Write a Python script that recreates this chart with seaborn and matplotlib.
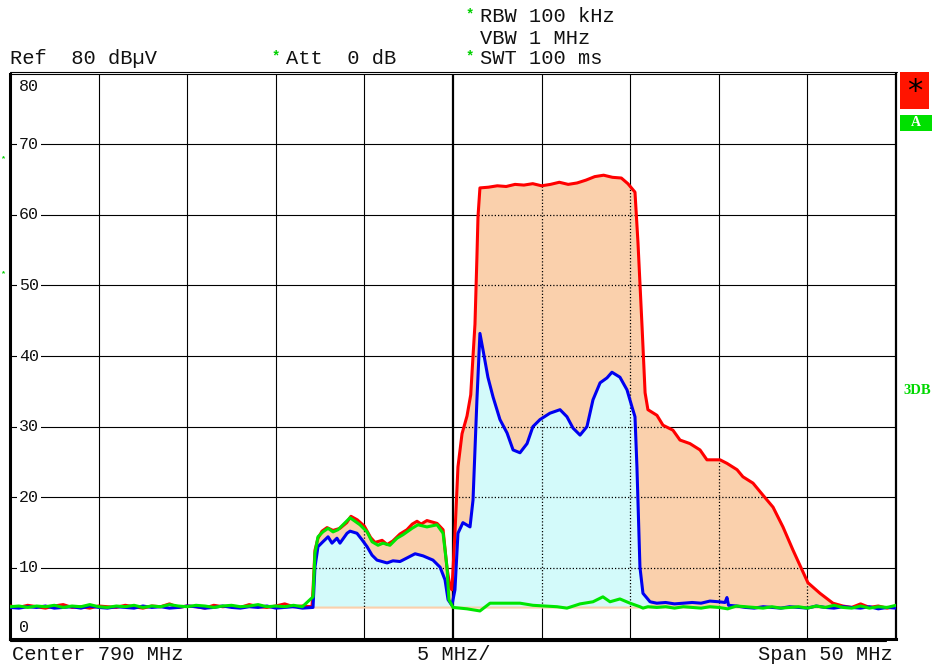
import numpy as np
import pandas as pd
import matplotlib.pyplot as plt
import seaborn as sns
from matplotlib.lines import Line2D
from matplotlib.patches import Rectangle

sns.set_theme(style='white')
plt.rcParams['font.family'] = ['Liberation Mono', 'DejaVu Sans Mono']

# --- trace data (MHz, dBuV) ---
left_noise_mhz = list(np.arange(765.0, 782.0, 0.5))

red_mhz = left_noise_mhz + [
    782.04, 782.10, 782.21, 782.38, 782.61, 782.89, 783.23, 783.62, 784.00, 784.24,
    784.60, 785.00, 785.35, 785.60, 786.00, 786.28, 786.60, 787.01, 787.40, 787.70,
    787.97, 788.20, 788.53, 789.10, 789.44, 789.66, 789.83, 789.94, 790.11, 790.28,
    790.51, 790.79, 791.00, 791.13, 791.24, 791.35, 791.41, 791.52, 792.00, 792.50,
    793.00, 793.50, 794.00, 794.50, 795.00, 795.50, 796.00, 796.50, 797.00, 797.50,
    798.00, 798.50, 799.00, 799.50, 799.87, 800.27, 800.44, 800.67, 800.84, 801.00,
    801.51, 801.85, 802.41, 802.81, 803.37, 803.94, 804.33, 805.07, 805.46, 806.03,
    806.36, 806.93, 807.49, 808.06, 808.62, 809.19, 809.70, 810.03, 810.71, 811.44,
    812.00, 812.50, 813.00, 813.50, 814.00, 814.50, 815.00]
red_dbuv = [
    4.6, 4.4, 4.7, 4.5, 4.3, 4.6, 4.8, 4.4, 4.5, 4.3, 4.6, 4.5, 4.4, 4.7, 4.5, 4.3, 4.6,
    4.5, 4.9, 4.4, 4.6, 4.5, 4.3, 4.7, 4.5, 4.6, 4.4, 4.8, 4.5, 4.4, 4.6, 4.9, 4.5, 4.6,
    4.5, 6.9, 12.5, 14.2, 15.2, 15.7, 15.3, 15.6, 16.4, 17.3,
    16.8, 15.9, 14.3, 13.6, 13.9, 13.3, 13.8, 14.8, 15.4, 16.2,
    16.6, 16.2, 16.7, 16.3, 15.4, 10.0, 7.3, 6.9, 14.9, 24.3,
    29.0, 31.5, 34.5, 40.0, 44.5, 54.0, 59.7, 63.8, 63.9, 64.1,
    64.0, 64.3, 64.2, 64.4, 64.1, 64.3, 64.6, 64.3, 64.5, 64.9,
    65.4, 65.6, 65.3, 65.2, 64.4, 63.2, 56.0, 44.1, 34.8, 32.4,
    31.6, 30.2, 29.5, 28.1, 27.6, 26.7, 25.3, 25.3, 24.8, 23.9,
    22.9, 22.0, 20.3, 18.6, 15.8, 12.5, 9.7, 7.9, 6.4, 5.0,
    4.6, 4.4, 4.9, 4.4, 4.6, 4.3, 4.6]

blue_mhz = left_noise_mhz + [
    782.10, 782.21, 782.38, 782.66, 782.95, 783.17, 783.45, 783.62, 784.02, 784.19,
    784.58, 784.86, 785.15, 785.43, 785.71, 786.28, 786.61, 787.01, 787.40, 787.86,
    788.31, 788.87, 789.27, 789.55, 789.72, 789.94, 790.11, 790.28, 790.56, 790.96,
    791.13, 791.35, 791.52, 791.69, 791.97, 792.26, 792.65, 793.05, 793.39, 793.78,
    794.18, 794.51, 794.91, 795.47, 796.04, 796.43, 796.77, 797.17, 797.56, 797.90,
    798.30, 798.69, 798.97, 799.42, 799.82, 800.10, 800.27, 800.38, 800.55, 800.72,
    801.12, 801.50, 802.00, 802.50, 803.00, 803.50, 804.00, 804.50, 805.00, 805.35,
    805.46, 805.55, 806.00, 806.50, 807.00, 807.50, 808.00, 808.50, 809.00, 809.50,
    810.00, 810.50, 811.00, 811.50, 812.00, 812.50, 813.00, 813.50, 814.00, 814.50,
    815.00]
blue_dbuv = [
    4.4, 4.3, 4.5, 4.4, 4.6, 4.3, 4.4, 4.5, 4.3, 4.6, 4.4, 4.3, 4.5, 4.4, 4.3, 4.6, 4.4,
    4.5, 4.3, 4.4, 4.6, 4.5, 4.3, 4.4, 4.6, 4.4, 4.3, 4.5, 4.4, 4.6, 4.3, 4.4, 4.5, 4.3,
    4.4, 10.1, 13.0, 13.7, 14.4, 13.5, 14.2, 13.5, 14.9, 15.2,
    14.9, 14.0, 13.0, 11.8, 11.1, 10.7, 11.0, 10.9, 11.4, 12.0,
    11.7, 11.1, 10.1, 8.3, 5.5, 4.7, 6.9, 14.9, 16.4, 15.8,
    19.6, 33.8, 43.2, 40.9, 37.0, 34.2, 31.0, 29.1, 26.7, 26.3,
    27.6, 30.0, 31.0, 31.9, 32.4, 31.4, 29.8, 28.8, 30.0, 33.8,
    36.2, 36.9, 37.7, 37.0, 35.2, 32.8, 31.4, 24.3, 10.1, 6.4,
    5.2, 5.0, 5.1, 4.9, 5.0, 5.1, 5.0, 5.3, 5.2, 5.1,
    5.8, 4.7, 4.6, 4.4, 4.3, 4.5, 4.4, 4.3, 4.5, 4.4,
    4.3, 4.6, 4.4, 4.3, 4.5, 4.4, 4.3, 4.5, 4.2, 4.4,
    4.3]

green_mhz = left_noise_mhz + [
    782.10, 782.21, 782.38, 782.66, 782.95, 783.23, 783.51, 783.79, 784.19, 784.47,
    784.75, 785.15, 785.43, 785.77, 786.05, 786.44, 786.84, 787.18, 787.69, 788.02,
    788.53, 789.10, 789.44, 789.66, 789.77, 790.00, 790.79, 791.52, 792.09, 793.05,
    793.78, 794.51, 795.87, 796.43, 797.17, 797.90, 798.46, 798.86, 799.42, 799.99,
    800.55, 800.72, 801.00, 801.50, 802.00, 802.50, 803.00, 803.50, 804.00, 804.50,
    805.00, 805.50, 806.00, 806.50, 807.00, 807.50, 808.00, 808.50, 809.00, 809.50,
    810.00, 810.50, 811.00, 811.50, 812.00, 812.50, 813.00, 813.50, 814.00, 814.50,
    815.00]
green_dbuv = [
    4.5, 4.6, 4.4, 4.6, 4.5, 4.7, 4.4, 4.6, 4.5, 4.8, 4.5, 4.4, 4.6, 4.5, 4.7, 4.4, 4.6,
    4.5, 4.8, 4.6, 4.5, 4.7, 4.6, 4.4, 4.6, 4.7, 4.5, 4.6, 4.8, 4.5, 4.6, 4.5, 4.7, 4.5,
    5.9, 12.1, 14.4, 15.1, 15.6, 15.1, 15.4, 16.1, 17.1, 16.6,
    16.1, 15.1, 13.7, 13.2, 13.5, 13.2, 14.2, 14.7, 15.6, 16.1,
    15.8, 16.1, 14.9, 10.1, 5.5, 4.4, 4.2, 3.9, 5.0, 5.0,
    5.0, 4.7, 4.5, 4.3, 4.9, 5.2, 5.9, 5.2, 5.6, 5.0,
    4.5, 4.3, 4.5, 4.4, 4.5, 4.3, 4.5, 4.4, 4.3, 4.5,
    4.4, 4.2, 4.6, 4.5, 4.4, 4.3, 4.5, 4.3, 4.4, 4.5,
    4.3, 4.6, 4.4, 4.7, 4.4, 4.3, 4.6, 4.3, 4.5, 4.4,
    4.7]

grid_db = [10, 20, 30, 40, 50, 60, 70]
grid_mhz = [770, 775, 780, 785, 795, 800, 805, 810]
label_db = [80, 70, 60, 50, 40, 30, 20, 10, 0]

red_df = pd.DataFrame({'MHz': red_mhz, 'dBuV': red_dbuv})
blue_df = pd.DataFrame({'MHz': blue_mhz, 'dBuV': blue_dbuv})
green_df = pd.DataFrame({'MHz': green_mhz, 'dBuV': green_dbuv})

W, H = 944, 669
fig = plt.figure(figsize=(W / 100, H / 100), dpi=100)
fig.patch.set_facecolor('white')
ax = fig.add_axes([10 / W, 1 - 638.5 / H, 886 / W, 565 / H])
ax.set_facecolor('white')


def fx(x):
    return x / W


def fy(y):
    return 1 - y / H


# solid grid under the fills
for d in grid_db:
    ax.axhline(d, color='black', lw=0.8, zorder=0.5)
for f in grid_mhz:
    ax.axvline(f, color='black', lw=0.8, zorder=0.5)

# filled areas under max traces
r_sel = red_df[(red_df.MHz >= 782.0) & (red_df.MHz <= 811.5)]
b_sel = blue_df[(blue_df.MHz >= 782.05) & (blue_df.MHz <= 801.2)]
orange = ax.fill_between(r_sel.MHz, 4.3, r_sel.dBuV, color='#FAD0AC', lw=0, zorder=1)
ax.fill_between(b_sel.MHz, 4.6, b_sel.dBuV, color='#D3FAFA', lw=0, zorder=1.2)

# dotted grid inside the fill
clip_path = orange.get_paths()[0]
clip_tr = orange.get_transform()
for d in grid_db:
    ln = ax.axhline(d, color='black', lw=0.9, ls=(0, (1, 1.6)), zorder=2)
    ln.set_clip_path(clip_path, clip_tr)
for f in grid_mhz:
    ln = ax.axvline(f, color='black', lw=0.9, ls=(0, (1, 1.6)), zorder=2)
    ln.set_clip_path(clip_path, clip_tr)
ax.axvline(790, color='black', lw=1.6, zorder=2.5)

# traces
sns.lineplot(data=red_df, x='MHz', y='dBuV', ax=ax, color='#FF0000', lw=2.2,
             estimator=None, sort=False, zorder=3)
sns.lineplot(data=blue_df, x='MHz', y='dBuV', ax=ax, color='#0000F0', lw=2.2,
             estimator=None, sort=False, zorder=3.1)
sns.lineplot(data=green_df, x='MHz', y='dBuV', ax=ax, color='#00E600', lw=2.2,
             estimator=None, sort=False, zorder=3.2)

ax.set_xlim(765, 815)
ax.set_ylim(0, 80)
ax.set_xticks([])
ax.set_yticks([])
ax.set_xlabel('')
ax.set_ylabel('')
for side, lw in [('left', 2.2), ('bottom', 2.2), ('right', 1.6), ('top', 0.8)]:
    ax.spines[side].set_visible(True)
    ax.spines[side].set_color('black')
    ax.spines[side].set_linewidth(lw)

# level labels inside the grid
for d in label_db:
    yy = d
    box = dict(boxstyle='square,pad=0.12', fc='white', ec='none')
    if d == 80:
        yy = 78.1
        box = None
    elif d == 0:
        yy = 1.6
        box = None
    ax.text(765.5, yy, str(d), ha='left', va='center', fontsize=12,
            color='#111111', bbox=box, zorder=4)

# double border lines
fig.add_artist(Line2D([fx(10), fx(897)], [fy(71.8), fy(71.8)], color='black', lw=0.8))
fig.add_artist(Line2D([fx(10), fx(886)], [fy(641), fy(641)], color='black', lw=0.8))

# header and footer text
txt = dict(fontsize=14.7, color='#111111', va='baseline')
star = dict(fontsize=10, color='#00D000', va='baseline', fontweight='bold')
fig.text(fx(10), fy(64.5), 'Ref  80 dB\u00b5V', ha='left', **txt)
fig.text(fx(286), fy(64.5), 'Att  0 dB', ha='left', **txt)
fig.text(fx(480), fy(22.5), 'RBW 100 kHz', ha='left', **txt)
fig.text(fx(480), fy(43.5), 'VBW 1 MHz', ha='left', **txt)
fig.text(fx(480), fy(64.5), 'SWT 100 ms', ha='left', **txt)
fig.text(fx(272), fy(60), '*', ha='left', **star)
fig.text(fx(466), fy(18), '*', ha='left', **star)
fig.text(fx(466), fy(60), '*', ha='left', **star)
fig.text(fx(12), fy(660), 'Center 790 MHz', ha='left', **txt)
fig.text(fx(454), fy(660), '5 MHz/', ha='center', **txt)
fig.text(fx(893), fy(660), 'Span 50 MHz', ha='right', **txt)

# small trigger marks at the left edge
edge_star = dict(fontsize=6, color='#00D000', va='center', ha='left', fontweight='bold')
fig.text(fx(0.5), fy(159), '*', **edge_star)
fig.text(fx(0.5), fy(274), '*', **edge_star)

# status boxes on the right
fig.add_artist(Rectangle((fx(900), fy(108.5)), 29 / W, 36 / H, transform=fig.transFigure,
                         facecolor='#FF1400', edgecolor='none'))
fig.text(fx(915), fy(91), '*', ha='center', va='center', fontsize=22, color='black',
         family=['DejaVu Sans'])
fig.add_artist(Rectangle((fx(900), fy(131)), 32 / W, 16 / H, transform=fig.transFigure,
                         facecolor='#00E000', edgecolor='none'))
fig.text(fx(916), fy(123), 'A', ha='center', va='center', fontsize=10, color='white',
         fontweight='bold', family=['Liberation Serif'])
fig.text(fx(917.5), fy(390), '3DB', ha='center', va='center', fontsize=10.5,
         color='#00D800', fontweight='bold', family=['Liberation Serif'])

fig.savefig('out.png', dpi=100)
